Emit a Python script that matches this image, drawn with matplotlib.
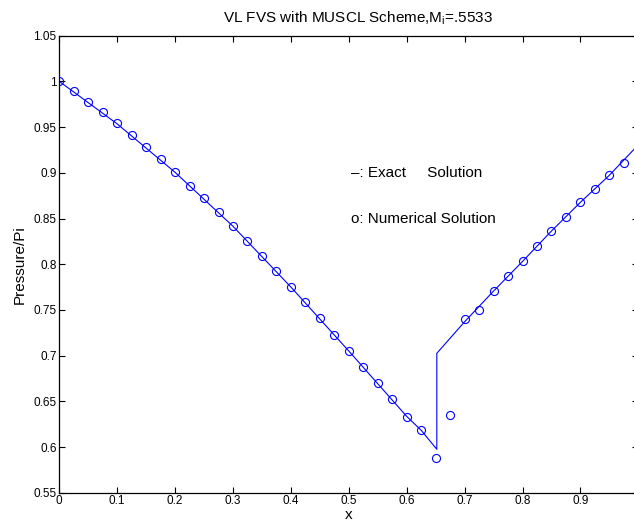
import matplotlib
matplotlib.use("Agg")
import matplotlib.pyplot as plt
import numpy as np

plt.rcParams['font.family'] = ['Liberation Sans', 'DejaVu Sans']

# Numerical solution (circles)
num_x = [0.0, 0.025, 0.05, 0.075, 0.1, 0.125, 0.15, 0.175, 0.2, 0.225, 0.25, 0.275, 0.3,
         0.325, 0.35, 0.375, 0.4, 0.425, 0.45, 0.475, 0.5, 0.525, 0.55, 0.575, 0.6, 0.625,
         0.65, 0.675, 0.7, 0.725, 0.75, 0.775, 0.8, 0.825, 0.85, 0.875, 0.9, 0.925, 0.95, 0.975]
num_y = [1.000, 0.989, 0.978, 0.966, 0.954, 0.941, 0.928, 0.915, 0.9005, 0.886, 0.872, 0.857, 0.8415,
         0.825, 0.809, 0.793, 0.775, 0.759, 0.741, 0.723, 0.705, 0.688, 0.670, 0.652, 0.6325, 0.6183,
         0.5876, 0.6347, 0.7396, 0.7495, 0.7706, 0.7866, 0.803, 0.820, 0.8363, 0.852, 0.8677, 0.8826, 0.8973, 0.911]

# Exact solution (line)
exact_x = [0.0, 0.1, 0.2, 0.3, 0.4, 0.5, 0.6, 0.625, 0.652, 0.652, 0.7, 0.75, 0.8, 0.85, 0.9, 0.95, 0.9926]
exact_y = [1.000, 0.9535, 0.9005, 0.8415, 0.775, 0.705, 0.6335, 0.6183, 0.5975, 0.7025, 0.737, 0.7706, 0.803, 0.8363, 0.8677, 0.8973, 0.9257]

xticks = [0, 0.1, 0.2, 0.3, 0.4, 0.5, 0.6, 0.7, 0.8, 0.9]
xticklabels = ["0", "0.1", "0.2", "0.3", "0.4", "0.5", "0.6", "0.7", "0.8", "0.9"]
yticks = [0.55, 0.6, 0.65, 0.7, 0.75, 0.8, 0.85, 0.9, 0.95, 1.0, 1.05]
yticklabels = ["0.55", "0.6", "0.65", "0.7", "0.75", "0.8", "0.85", "0.9", "0.95", "1", "1.05"]

fig = plt.figure(figsize=(6.34, 5.25), dpi=100)
ax = fig.add_axes([59.3/634, (525-492.7)/525, (638.3-59.3)/634, (492.7-35.7)/525])

ax.plot(exact_x, exact_y, '-', color='#0000ff', linewidth=0.8)
ax.plot(num_x, num_y, 'o', markerfacecolor='none', markeredgecolor='#0000ff',
        markersize=5.8, markeredgewidth=0.8, linestyle='none')

ax.set_xlim(0, 1.0)
ax.set_ylim(0.55, 1.05)
ax.set_xticks(xticks)
ax.set_xticklabels(xticklabels)
ax.set_yticks(yticks)
ax.set_yticklabels(yticklabels)
ax.tick_params(direction='in', length=4.5, width=0.8, top=True, right=True, labelsize=8.5, pad=2)
for s in ax.spines.values():
    s.set_linewidth(0.9)

fig.text(358/634, 1 - 18/525, "VL FVS with MUSCL Scheme,M$_\\mathregular{i}$=.5533",
         fontsize=11, ha='center', va='center')
ax.set_xlabel("x", fontsize=11, labelpad=0.5)
ax.set_ylabel("Pressure/Pi", fontsize=11, labelpad=5)

ax.text(0.503, 0.900, "\u2013: Exact     Solution", fontsize=11, va='center', ha='left')
ax.text(0.503, 0.850, "o: Numerical Solution", fontsize=11, va='center', ha='left')

fig.savefig("out.png", dpi=100)
